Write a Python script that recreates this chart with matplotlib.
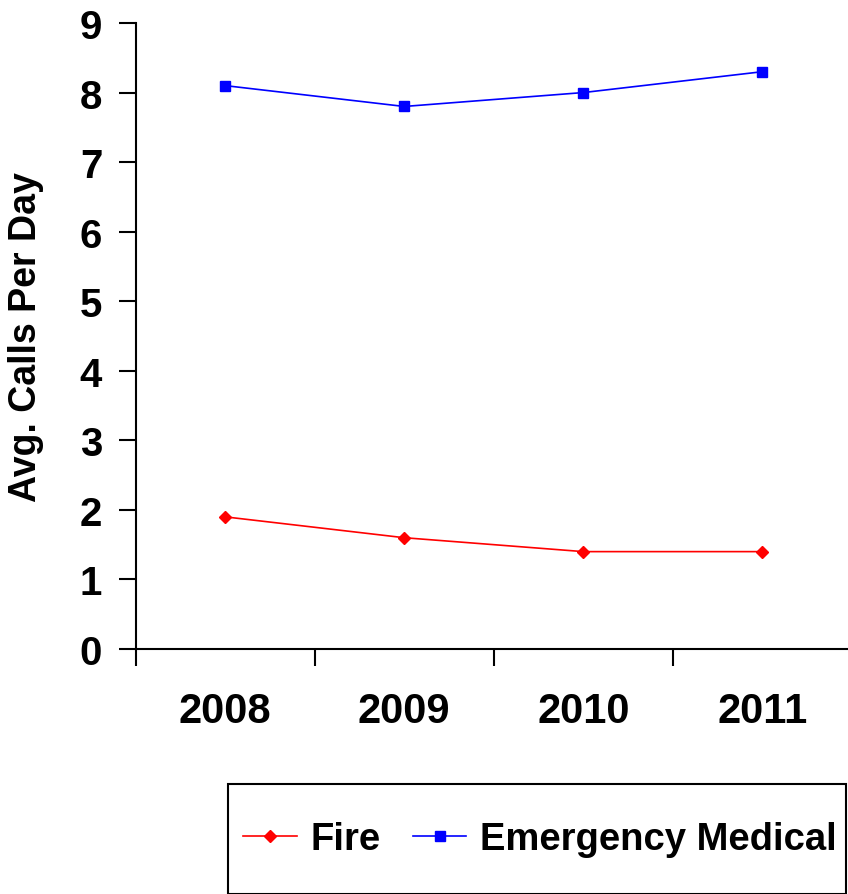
import matplotlib
matplotlib.use("Agg")
import matplotlib.pyplot as plt
from matplotlib.patches import Rectangle

years = ["2008", "2009", "2010", "2011"]
fire = [1.9, 1.6, 1.4, 1.4]
emergency = [8.1, 7.8, 8.0, 8.3]
yticks = [0, 1, 2, 3, 4, 5, 6, 7, 8, 9]

plt.rcParams['font.family'] = ['Liberation Sans', 'DejaVu Sans']
plt.rcParams['font.weight'] = 'bold'

W, H = 848, 895
fig = plt.figure(figsize=(W/100, H/100), dpi=100)
left, right, top, bottom = 135.5, 852, 24, 650
ax = fig.add_axes([left/W, 1 - bottom/H, (right-left)/W, (bottom-top)/H])

x = list(range(len(years)))
l1, = ax.plot(x, fire, color='#ff0000', marker='D', markersize=6, linewidth=1.2, label='Fire')
l2, = ax.plot(x, emergency, color='#0000ff', marker='s', markersize=7, linewidth=1.2, label='Emergency Medical')

ax.set_xlim(-0.5, len(years) - 0.5)
ax.set_ylim(0, 9)
ax.set_yticks(yticks)
ax.set_yticklabels([str(v) for v in yticks], fontsize=29, fontweight='bold')
ax.set_xticks([i - 0.5 for i in range(len(years) + 1)])
ax.set_xticklabels([])
ax.set_xticks(x, minor=True)
ax.set_xticklabels(years, minor=True, fontsize=30, fontweight='bold')
ax.tick_params(axis='x', which='minor', length=0, pad=30)
ax.tick_params(axis='x', which='major', direction='out', length=12, width=1.5)
ax.tick_params(axis='y', direction='out', length=12, width=1.5, pad=12)
for s in ['top', 'right']:
    ax.spines[s].set_visible(False)
for s in ['left', 'bottom']:
    ax.spines[s].set_linewidth(1.5)
ax.set_ylabel('Avg. Calls Per Day', fontsize=27, fontweight='bold', labelpad=26)

# legend box
fig.add_artist(Rectangle((228/W, 0), (846-228)/W, (H-785)/H, transform=fig.transFigure,
                         fill=False, edgecolor='black', linewidth=1.5, clip_on=False))
leg = fig.legend(handles=[l1, l2], loc='center', bbox_to_anchor=(540/W, 1 - 840/H),
                 ncol=2, frameon=False, handlelength=1.4, handletextpad=0.35,
                 columnspacing=0.85, prop={'weight': 'bold', 'size': 27.5})

fig.savefig('out.png', dpi=100)
